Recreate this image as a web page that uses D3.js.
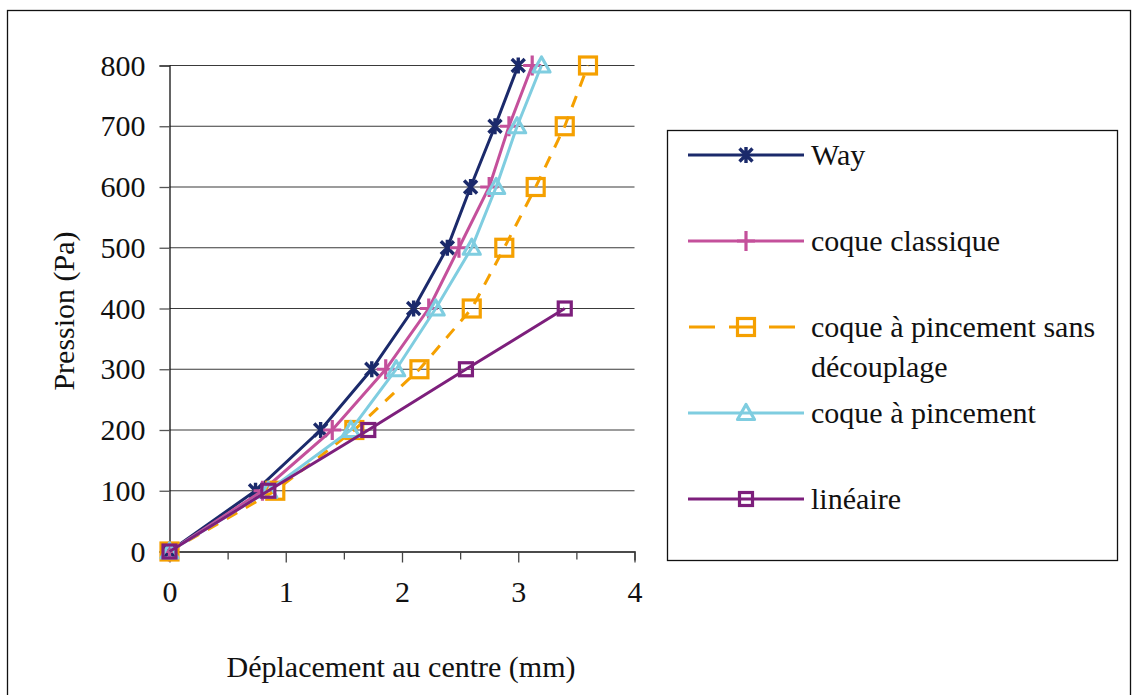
<!DOCTYPE html>
<html><head><meta charset="utf-8">
<script src="https://cdn.jsdelivr.net/npm/d3@7"></script>
<style>
html,body{margin:0;padding:0;background:#fff;}
svg{display:block;}
text{font-family:"Liberation Serif","Times New Roman",serif;fill:#111;}
</style></head>
<body>
<svg id="chart" width="1132" height="695"></svg>
<script>
// ---- data ----
const pressures = [0, 100, 200, 300, 400, 500, 600, 700, 800];
const seriesNames = ["Way", "coque classique", "coque à pincement sans découplage", "coque à pincement", "linéaire"];
const wayX        = [0, 0.74, 1.30, 1.74, 2.10, 2.39, 2.59, 2.80, 3.00];
const classiqueX  = [0, 0.80, 1.40, 1.86, 2.23, 2.49, 2.75, 2.92, 3.12];
const sansDecX    = [0, 0.91, 1.59, 2.15, 2.60, 2.88, 3.15, 3.40, 3.60];
const pincementX  = [0, 0.85, 1.56, 1.95, 2.29, 2.60, 2.81, 2.99, 3.20];
const lineairePressures = [0, 100, 200, 300, 400];
const lineaireX   = [0, 0.85, 1.71, 2.55, 3.40];
const xTicks = [0, 1, 2, 3, 4];
const xMinorTicks = [0, 0.5, 1, 1.5, 2, 2.5, 3, 3.5, 4];
const yTicks = [0, 100, 200, 300, 400, 500, 600, 700, 800];
const xTitle = "Déplacement au centre (mm)";
const yTitle = "Pression (Pa)";

const series = [
  {name: seriesNames[0], xs: wayX, ps: pressures, color: "#1b2a6b", marker: "star", dash: null},
  {name: seriesNames[1], xs: classiqueX, ps: pressures, color: "#c4509b", marker: "plus", dash: null},
  {name: seriesNames[2], xs: sansDecX, ps: pressures, color: "#f5a000", marker: "squareBig", dash: "12,10"},
  {name: seriesNames[3], xs: pincementX, ps: pressures, color: "#7fcde0", marker: "triangle", dash: null},
  {name: seriesNames[4], xs: lineaireX, ps: lineairePressures, color: "#7d1f7c", marker: "square", dash: null}
];

const svg = d3.select("#chart");
const FS = 30;

// outer frame
svg.append("rect").attr("x", 7.5).attr("y", 10.5).attr("width", 1123).attr("height", 700)
  .attr("fill", "none").attr("stroke", "#111").attr("stroke-width", 1.3);

const x = d3.scaleLinear().domain([0, 4]).range([169.5, 634.5]);
const y = d3.scaleLinear().domain([0, 800]).range([551.5, 65.5]);

// gridlines
svg.append("g").selectAll("line").data(yTicks.filter(d => d > 0)).join("line")
  .attr("x1", x(0)).attr("x2", x(4)).attr("y1", d => y(d)).attr("y2", d => y(d))
  .attr("stroke", "#3a3a3a").attr("stroke-width", 1.2);

// y axis
const yAxis = d3.axisLeft(y).tickValues(yTicks).tickSize(10).tickPadding(14).tickFormat(d3.format("d"));
const gy = svg.append("g").attr("transform", `translate(${x(0)},0)`).call(yAxis);
gy.select(".domain").attr("stroke", "#111").attr("stroke-width", 1.3);
gy.selectAll(".tick line").attr("stroke", "#555").attr("stroke-width", 1.3);
gy.selectAll(".tick text").attr("font-size", FS).attr("font-family", "Liberation Serif").attr("fill", "#111");

// x axis
const xAxis = d3.axisBottom(x).tickValues(xMinorTicks).tickSize(9).tickPadding(20)
  .tickFormat(d => Number.isInteger(d) ? d3.format("d")(d) : "");
const gx = svg.append("g").attr("transform", `translate(0,${y(0)})`).call(xAxis);
gx.select(".domain").attr("stroke", "#111").attr("stroke-width", 1.3);
gx.selectAll(".tick line").attr("stroke", "#444").attr("stroke-width", 1.3)
  .attr("y2", d => Number.isInteger(d) ? 11 : 8);
gx.selectAll(".tick text").attr("font-size", FS).attr("font-family", "Liberation Serif").attr("fill", "#111");

// titles
svg.append("text").attr("x", 401).attr("y", 677).attr("text-anchor", "middle").attr("font-size", FS).text(xTitle);
svg.append("text").attr("transform", "translate(74,311) rotate(-90)").attr("text-anchor", "middle").attr("font-size", FS).text(yTitle);

// marker drawing
function drawMarker(g, type, cx, cy, color) {
  const m = g.append("g").attr("transform", `translate(${cx},${cy})`)
    .attr("fill", "none").attr("stroke", color).attr("stroke-width", 3.2);
  if (type === "star") {
    const r = 6.5;
    m.append("path").attr("d", `M${-r},${-r}L${r},${r}M${-r},${r}L${r},${-r}M0,${-r - 1.5}L0,${r + 1.5}`).attr("stroke-width", 3.4);
  } else if (type === "plus") {
    const r = 9;
    m.append("path").attr("d", `M${-r},0L${r},0M0,${-r - 1}L0,${r + 1}`);
  } else if (type === "triangle") {
    m.append("path").attr("d", "M0,-8.5L8.5,6.5L-8.5,6.5Z").attr("stroke-linejoin", "round");
  } else if (type === "squareBig") {
    m.append("rect").attr("x", -8.5).attr("y", -8.5).attr("width", 17).attr("height", 17);
  } else if (type === "square") {
    m.append("rect").attr("x", -6.5).attr("y", -6.5).attr("width", 13).attr("height", 13);
  }
}

const line = d3.line().x(d => x(d[0])).y(d => y(d[1]));
series.forEach(s => {
  const pts = s.xs.map((v, i) => [v, s.ps[i]]);
  svg.append("path").datum(pts).attr("d", line).attr("fill", "none")
    .attr("stroke", s.color).attr("stroke-width", 3)
    .attr("stroke-dasharray", s.dash);
  const mg = svg.append("g");
  pts.forEach(p => drawMarker(mg, s.marker, x(p[0]), y(p[1]), s.color));
});

// legend
svg.append("rect").attr("x", 667.5).attr("y", 130.5).attr("width", 450).attr("height", 430)
  .attr("fill", "#fff").attr("stroke", "#111").attr("stroke-width", 1.3);
const legendRows = [155, 241, 327, 413, 499];
series.forEach((s, i) => {
  const ly = legendRows[i];
  const lg = svg.append("g");
  lg.append("line").attr("x1", 688).attr("x2", 804).attr("y1", ly).attr("y2", ly)
    .attr("stroke", s.color).attr("stroke-width", 3.2)
    .attr("stroke-dasharray", s.dash ? "26,14" : null).attr("stroke-dashoffset", s.dash ? -1 : null);
  drawMarker(lg, s.marker, 746, ly, s.color);
  const t = lg.append("text").attr("x", 811).attr("y", ly).attr("dy", "0.32em").attr("font-size", FS);
  if (s.name === seriesNames[2]) {
    t.append("tspan").attr("x", 811).text("coque à pincement sans");
    t.append("tspan").attr("x", 811).attr("dy", 40).text("découplage");
  } else {
    t.text(s.name);
  }
});
</script>
</body></html>
